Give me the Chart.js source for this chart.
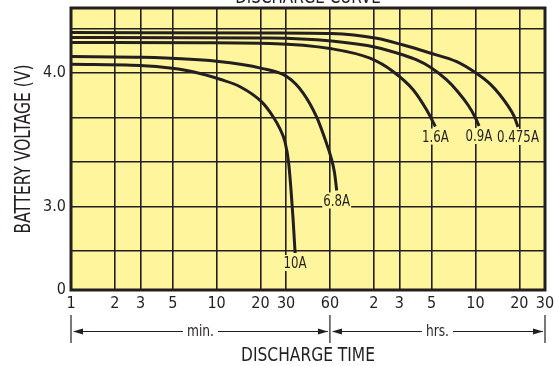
<!DOCTYPE html>
<html>
<head>
<meta charset="utf-8">
<script src="https://cdn.jsdelivr.net/npm/chart.js@4/dist/chart.umd.min.js"></script>
<style>
  html, body { margin: 0; padding: 0; background: #fff; }
</style>
</head>
<body>
<canvas id="dischargeChart" width="555" height="366"></canvas>
<script>
// discharge time (minutes) and battery voltage (V)
const currents = ['10A', '6.8A', '1.6A', '0.9A', '0.475A'];

const t10A = [1, 2.98, 4.94, 7.0, 10.55, 14.5, 20.4, 24.5, 27.25, 29.5, 31.2, 32.43, 33.47, 34.6];
const v10A = [4.068, 4.059, 4.038, 4.010, 3.955, 3.899, 3.785, 3.672, 3.582, 3.484, 3.334, 3.124, 2.914, 2.651];

const t6A8 = [1, 3, 10, 20.4, 30.3, 39.4, 48.7, 57, 60.5, 64.5, 66.8];
const v6A8 = [4.125, 4.12, 4.09, 4.037, 3.975, 3.85, 3.67, 3.47, 3.383, 3.255, 3.12];

const t1A6 = [1, 7.7, 23.3, 61.7, 113, 163.5, 224.4, 277.3, 318];
const v1A6 = [4.231, 4.229, 4.224, 4.184, 4.113, 4.012, 3.875, 3.724, 3.600];

const t0A9 = [1, 23.3, 61.7, 125.8, 191.6, 236.8, 292.3, 380.5, 455, 533, 595.4, 634];
const v0A9 = [4.269, 4.265, 4.242, 4.194, 4.137, 4.10, 4.047, 3.95, 3.860, 3.762, 3.672, 3.604];

const t0A475 = [1, 23.3, 61.7, 125.8, 191.6, 292.3, 445.7, 611.5, 754.8, 884, 1003, 1103, 1175];
const v0A475 = [4.306, 4.303, 4.299, 4.263, 4.212, 4.152, 4.087, 3.998, 3.920, 3.837, 3.755, 3.679, 3.597];

// axis ticks
const xTickMinutes = [1, 2, 3, 5, 10, 20, 30, 60, 120, 180, 300, 600, 1200, 1800];
const xTickLabels = ['1', '2', '3', '5', '10', '20', '30', '60', '2', '3', '5', '10', '20', '30'];
const yTickValues = [2.373, 2.6667, 3.0, 3.3333, 3.6667, 4.0, 4.3333];
const yTickLabels = ['0', '', '3.0', '', '', '4.0', ''];

const INK = '#231f20';
const PAPER = '#fff59d';
const FONT = "'DejaVu Sans Condensed', 'DejaVu Sans', sans-serif";

Chart.defaults.font.family = FONT;
Chart.defaults.color = INK;

function toPoints(t, v) {
    return t.map((x, i) => ({ x: x, y: v[i] }));
}

const series = [
    toPoints(t10A, v10A),
    toPoints(t6A8, v6A8),
    toPoints(t1A6, v1A6),
    toPoints(t0A9, v0A9),
    toPoints(t0A475, v0A475)
];

// texto estreito: a fonte do original é bem condensada
function narrowText(ctx, text, x, y, size, squeeze, rotate) {
    ctx.save();
    ctx.translate(x, y);
    if (rotate) ctx.rotate(rotate);
    ctx.scale(squeeze, 1);
    ctx.font = size + 'px ' + FONT;
    ctx.fillText(text, 0, 0);
    ctx.restore();
}

const decoPlugin = {
    id: 'deco',
    beforeDraw(chart) {
        const { ctx, chartArea: a } = chart;
        ctx.save();
        ctx.fillStyle = PAPER;
        ctx.fillRect(a.left, a.top, a.right - a.left, a.bottom - a.top);
        ctx.restore();
    },
    afterDatasetsDraw(chart) {
        const { ctx, chartArea: a } = chart;
        ctx.save();
        ctx.textAlign = 'center';
        ctx.textBaseline = 'top';
        chart.data.datasets.forEach((ds, i) => {
            const pts = chart.getDatasetMeta(i).data;
            const end = pts[pts.length - 1];
            ctx.font = '16px ' + FONT;
            const w = ctx.measureText(ds.label).width * 0.82;
            ctx.fillStyle = PAPER;
            ctx.fillRect(end.x - w / 2 - 1, end.y + 2, w + 2, 16);
            ctx.fillStyle = INK;
            narrowText(ctx, ds.label, end.x, end.y + 3, 16, 0.82);
        });
        ctx.strokeStyle = INK;
        ctx.lineWidth = 3;
        ctx.strokeRect(a.left, a.top, a.right - a.left, a.bottom - a.top);
        ctx.restore();
    },
    afterDraw(chart) {
        const { ctx, chartArea: a } = chart;
        const x = chart.scales.x;
        const x0 = x.getPixelForValue(1);
        const x1 = x.getPixelForValue(60);
        const x2 = x.getPixelForValue(1800);
        const yArrow = 331.5;
        ctx.save();
        ctx.fillStyle = INK;
        ctx.strokeStyle = INK;
        ctx.textAlign = 'center';

        // título cortado no topo
        ctx.textBaseline = 'alphabetic';
        narrowText(ctx, 'DISCHARGE CURVE', 308, 3, 20, 0.84);

        // título do eixo Y
        ctx.textBaseline = 'middle';
        narrowText(ctx, 'BATTERY VOLTAGE (V)', 25, (a.top + a.bottom) / 2, 21, 0.82, -Math.PI / 2);

        // barras verticais
        ctx.lineWidth = 1.2;
        [x0, x1, x2].forEach(px => {
            ctx.beginPath();
            ctx.moveTo(px, 315);
            ctx.lineTo(px, 343);
            ctx.stroke();
        });

        function span(p, q, text) {
            const mid = (p + q) / 2;
            ctx.font = '16px ' + FONT;
            const half = ctx.measureText(text).width * 0.85 / 2 + 4;
            ctx.textBaseline = 'middle';
            narrowText(ctx, text, mid, yArrow, 16, 0.85);
            ctx.lineWidth = 1;
            ctx.beginPath();
            ctx.moveTo(p + 3, yArrow);
            ctx.lineTo(mid - half, yArrow);
            ctx.moveTo(mid + half, yArrow);
            ctx.lineTo(q - 2, yArrow);
            ctx.stroke();
            // pontas de seta
            ctx.beginPath();
            ctx.moveTo(p + 2, yArrow);
            ctx.lineTo(p + 12, yArrow - 3);
            ctx.lineTo(p + 12, yArrow + 3);
            ctx.closePath();
            ctx.fill();
            ctx.beginPath();
            ctx.moveTo(q - 2, yArrow);
            ctx.lineTo(q - 12, yArrow - 3);
            ctx.lineTo(q - 12, yArrow + 3);
            ctx.closePath();
            ctx.fill();
        }
        span(x0, x1, 'min.');
        span(x1, x2, 'hrs.');

        ctx.textBaseline = 'middle';
        narrowText(ctx, 'DISCHARGE TIME', (x0 + x2) / 2, 356, 20, 0.86);
        ctx.restore();
    }
};

new Chart(document.getElementById('dischargeChart'), {
    type: 'line',
    data: {
        datasets: series.map((pts, i) => ({
            label: currents[i],
            data: pts,
            borderColor: INK,
            borderWidth: 3,
            pointRadius: 0,
            fill: false,
            cubicInterpolationMode: 'monotone'
        }))
    },
    options: {
        responsive: false,
        animation: false,
        devicePixelRatio: 1,
        layout: { padding: { top: 8, right: 10, bottom: 46, left: 0 } },
        plugins: {
            legend: { display: false },
            tooltip: { enabled: false }
        },
        scales: {
            x: {
                type: 'logarithmic',
                min: 1,
                max: 1800,
                afterBuildTicks: s => { s.ticks = xTickMinutes.map(v => ({ value: v })); },
                afterFit: s => { s.height = 30; s.paddingLeft = 0; s.paddingRight = 0; },
                ticks: {
                    autoSkip: false,
                    maxRotation: 0,
                    padding: 4,
                    font: { size: 16 },
                    callback: (v, i) => xTickLabels[i]
                },
                grid: { color: INK, lineWidth: 1.6, drawTicks: false },
                border: { display: false }
            },
            y: {
                min: 2.373,
                max: 4.49,
                afterBuildTicks: s => { s.ticks = yTickValues.map(v => ({ value: v })); },
                afterFit: s => { s.width = 71; s.paddingTop = 0; s.paddingBottom = 0; },
                ticks: {
                    padding: 5,
                    font: { size: 16 },
                    callback: (v, i) => yTickLabels[i]
                },
                grid: { color: INK, lineWidth: 1.6, drawTicks: false },
                border: { display: false }
            }
        }
    },
    plugins: [decoPlugin]
});
</script>
</body>
</html>
